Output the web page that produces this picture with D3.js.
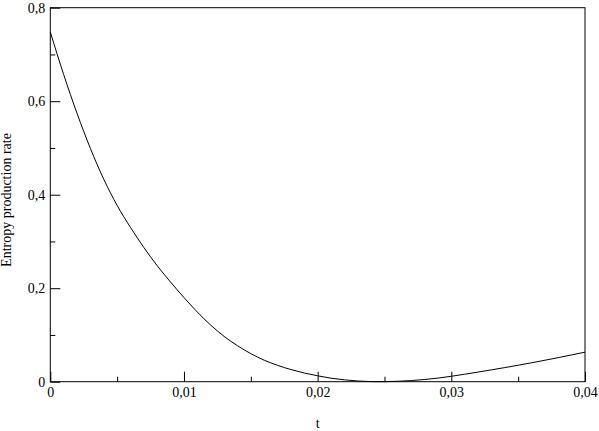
<!DOCTYPE html>
<html>
<head>
<meta charset="utf-8">
<script src="https://cdn.jsdelivr.net/npm/d3@7"></script>
<style>
  html, body { margin: 0; padding: 0; background: #fff; }
  svg { display: block; }
</style>
</head>
<body>
<div id="chart"></div>
<script>
// curve
const tValues = [0, 0.001, 0.002, 0.003, 0.004, 0.005, 0.006, 0.007, 0.008, 0.009,
  0.010, 0.011, 0.012, 0.013, 0.014, 0.015, 0.016, 0.017, 0.018, 0.019,
  0.020, 0.021, 0.022, 0.023, 0.024, 0.0245, 0.025, 0.026, 0.027, 0.028, 0.029,
  0.030, 0.031, 0.032, 0.033, 0.034, 0.035, 0.036, 0.037, 0.038, 0.039, 0.040];
const rateValues = [0.748, 0.657, 0.574, 0.499, 0.433, 0.377, 0.330, 0.287, 0.248, 0.213,
  0.180, 0.149, 0.121, 0.097, 0.077, 0.060, 0.046, 0.035, 0.026, 0.0186,
  0.0126, 0.0075, 0.0040, 0.0015, 0.0002, 0, 0.0001, 0.0009, 0.0024, 0.0047, 0.0077,
  0.0116, 0.0160, 0.0206, 0.0253, 0.0302, 0.0352, 0.0405, 0.0459, 0.0515, 0.0573, 0.0632];
const xTicks = [0, 0.01, 0.02, 0.03, 0.04];
const xMinorTicks = [0.005, 0.015, 0.025, 0.035];
const yTicks = [0, 0.2, 0.4, 0.6, 0.8];
const yMinorTicks = [0.1, 0.3, 0.5, 0.7];

const width = 599, height = 431;
const plot = { left: 50.3, right: 585, top: 7.7, bottom: 381.7 };
const serif = "'Liberation Serif', 'DejaVu Serif', serif";

const fmt = d => d === 0 ? "0" : String(+d.toFixed(3)).replace(".", ",");

const svg = d3.select("#chart").append("svg")
  .attr("width", width)
  .attr("height", height)
  .attr("font-family", serif);

const x = d3.scaleLinear().domain([0, 0.04]).range([plot.left, plot.right]);
const y = d3.scaleLinear().domain([0, 0.8]).range([plot.bottom, plot.top]);

// minor ticks
svg.append("g")
  .attr("transform", `translate(0,${plot.bottom})`)
  .call(d3.axisBottom(x).tickValues(xMinorTicks).tickSize(-5).tickSizeOuter(0).tickFormat(""))
  .call(g => g.select(".domain").remove());
svg.append("g")
  .attr("transform", `translate(${plot.left},0)`)
  .call(d3.axisLeft(y).tickValues(yMinorTicks).tickSize(-5).tickSizeOuter(0).tickFormat(""))
  .call(g => g.select(".domain").remove());

// major ticks
const xAxis = svg.append("g")
  .attr("transform", `translate(0,${plot.bottom})`)
  .call(d3.axisBottom(x).tickValues(xTicks).tickSize(-10).tickSizeOuter(0).tickPadding(5).tickFormat(fmt));
const yAxis = svg.append("g")
  .attr("transform", `translate(${plot.left},0)`)
  .call(d3.axisLeft(y).tickValues(yTicks).tickSize(-10).tickSizeOuter(0).tickPadding(5).tickFormat(fmt));

[xAxis, yAxis].forEach(a => {
  a.select(".domain").remove();
  a.attr("font-family", serif).attr("font-size", 14);
  a.selectAll("text").attr("fill", "#000");
});
svg.selectAll(".tick line").attr("stroke", "#000");

// frame
svg.append("rect")
  .attr("x", plot.left).attr("y", plot.top)
  .attr("width", plot.right - plot.left).attr("height", plot.bottom - plot.top)
  .attr("fill", "none")
  .attr("stroke", "#000")
  .attr("stroke-width", 1);

// curve
const line = d3.line()
  .x((d, i) => x(tValues[i]))
  .y(d => y(d))
  .curve(d3.curveMonotoneX);

svg.append("path")
  .datum(rateValues)
  .attr("d", line)
  .attr("fill", "none")
  .attr("stroke", "#000")
  .attr("stroke-width", 1);

// titles
svg.append("text")
  .attr("x", (plot.left + plot.right) / 2)
  .attr("y", 428)
  .attr("text-anchor", "middle")
  .attr("font-size", 14)
  .text("t");

svg.append("text")
  .attr("transform", "translate(11,200) rotate(-90)")
  .attr("text-anchor", "middle")
  .attr("font-size", 14)
  .text("Entropy production rate");
</script>
</body>
</html>
